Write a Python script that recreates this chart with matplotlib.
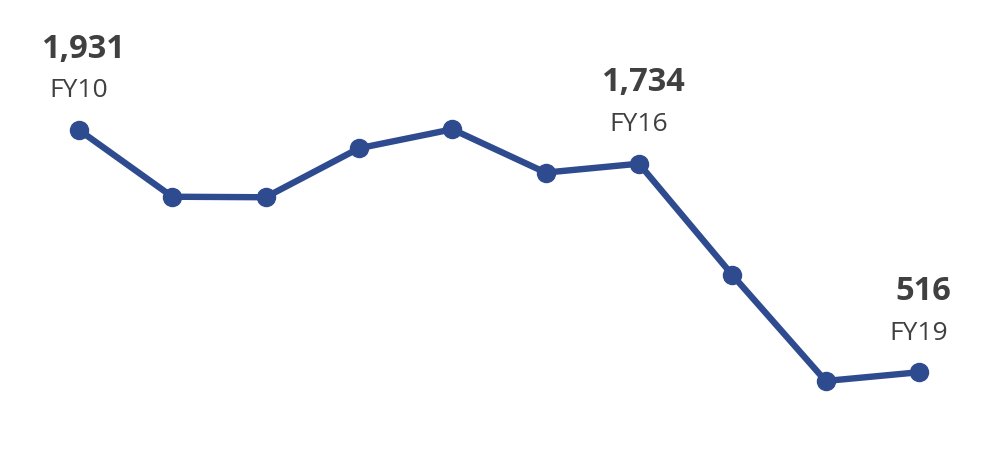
import matplotlib
matplotlib.use("Agg")
import matplotlib.pyplot as plt

years = ["FY10", "FY11", "FY12", "FY13", "FY14", "FY15", "FY16", "FY17", "FY18", "FY19"]
values = [1931, 1541, 1538, 1824, 1935, 1682, 1734, 1084, 465, 516]
labelled = ["FY10", "FY16", "FY19"]

line_color = "#2F4B8F"
text_color = "#404040"

plt.rcParams["font.family"] = ["Open Sans", "DejaVu Sans"]

fig = plt.figure(figsize=(10, 4.51), dpi=100)
ax = fig.add_axes([0, 0, 1, 1])

x = list(range(len(years)))
ax.plot(x, values, color=line_color, linewidth=4.6, marker="o", markersize=13,
        solid_capstyle="round", solid_joinstyle="round")

# label a few of the points: value in bold, year below
for i, (yr, v) in enumerate(zip(years, values)):
    if yr not in labelled:
        continue
    ax.annotate(f"{v:,}", (i, v), xytext=(3, 52), textcoords="offset points",
                ha="center", va="baseline", fontsize=23.5, fontweight="bold",
                color=text_color)
    ax.annotate(yr, (i, v), xytext=(0, 23.5), textcoords="offset points",
                ha="center", va="baseline", fontsize=19, color=text_color)

ax.set_xlim(-0.846, 9.868)
ax.set_ylim(56, 2690)
ax.axis("off")

fig.savefig("out.png", dpi=100, facecolor="white")
